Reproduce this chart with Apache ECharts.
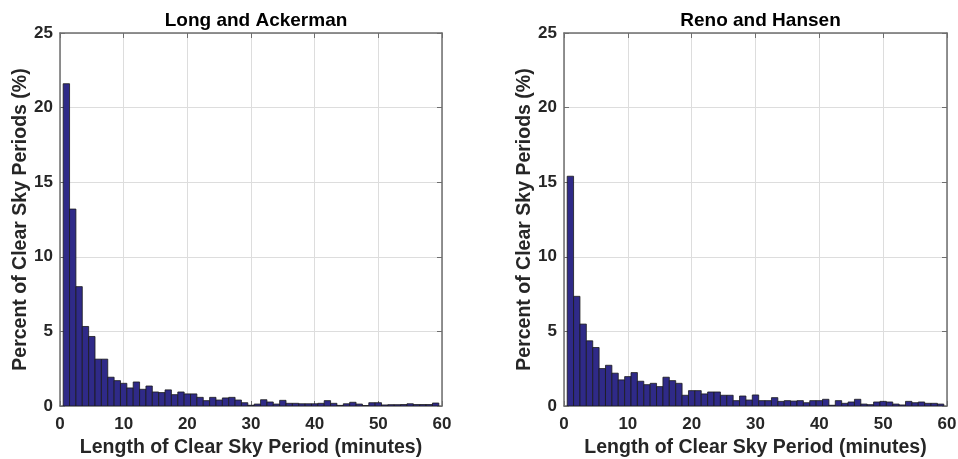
<!DOCTYPE html>
<html>
<head>
<meta charset="utf-8">
<script src="https://cdn.jsdelivr.net/npm/echarts@6/dist/echarts.min.js"></script>
<style>
  html, body { margin: 0; padding: 0; background: #fff; }
  #chart { width: 958px; height: 459px; }
</style>
</head>
<body>
<div id="chart"></div>
<script>
// bin centres (minutes), one bin per minute
var binCenters = [];
for (var i = 1; i <= 59; i++) binCenters.push(i);

var titles = ['Long and Ackerman', 'Reno and Hansen'];

// percent of clear sky periods in each bin
var longAckerman = [
  21.6, 13.2, 8.0, 5.33, 4.66, 3.14, 3.14, 1.93, 1.70, 1.52,
  1.21, 1.61, 1.12, 1.34, 0.94, 0.90, 1.08, 0.76, 0.94, 0.81,
  0.81, 0.58, 0.36, 0.58, 0.40, 0.54, 0.58, 0.40, 0.22, 0.05,
  0.13, 0.42, 0.27, 0.13, 0.38, 0.18, 0.18, 0.15, 0.15, 0.15,
  0.18, 0.36, 0.18, 0.04, 0.15, 0.25, 0.13, 0.03, 0.22, 0.22,
  0.07, 0.09, 0.09, 0.10, 0.15, 0.10, 0.10, 0.10, 0.20
];
var renoHansen = [
  15.4, 7.35, 5.49, 4.37, 3.92, 2.51, 2.73, 2.20, 1.75, 1.97,
  2.24, 1.66, 1.43, 1.52, 1.30, 1.93, 1.70, 1.52, 0.72, 1.03,
  1.03, 0.81, 0.94, 0.94, 0.72, 0.72, 0.36, 0.67, 0.40, 0.74,
  0.36, 0.36, 0.56, 0.31, 0.36, 0.33, 0.36, 0.22, 0.36, 0.36,
  0.45, 0.05, 0.36, 0.18, 0.27, 0.45, 0.13, 0.09, 0.27, 0.31,
  0.27, 0.13, 0.07, 0.31, 0.22, 0.27, 0.18, 0.18, 0.13
];

var xTicks = [0, 10, 20, 30, 40, 50, 60];
var yTicks = [0, 5, 10, 15, 20, 25];

var chart = echarts.init(document.getElementById('chart'));

var font = 'Liberation Sans, Arial, sans-serif';
var tickColor = '#262626';
var boxColor = '#6e6e6e';

function pairs(vals) {
  return vals.map(function (v, i) { return [binCenters[i], v]; });
}

function renderBar(params, api) {
  var x = api.value(0), y = api.value(1);
  var p0 = api.coord([x - 0.5, y]);
  var p1 = api.coord([x + 0.5, 0]);
  return {
    type: 'rect',
    shape: { x: p0[0], y: p0[1], width: p1[0] - p0[0], height: p1[1] - p0[1] },
    style: { fill: '#2f2a88', stroke: '#1a1a1a', lineWidth: 0.8 }
  };
}

var grids = [
  { left: 60, top: 33, width: 382, height: 373, outerBoundsMode: 'none', containLabel: false },
  { left: 564, top: 33, width: 383, height: 373, outerBoundsMode: 'none', containLabel: false }
];

var xAxes = [], yAxes = [], series = [], titleOpts = [];
[longAckerman, renoHansen].forEach(function (vals, g) {
  var gr = grids[g];
  titleOpts.push({
    text: titles[g],
    left: gr.left + gr.width / 2,
    top: 6,
    textAlign: 'center',
    textStyle: { fontFamily: font, fontSize: 19, fontWeight: 'bold', color: '#000' }
  });
  xAxes.push({
    gridIndex: g, type: 'value', min: xTicks[0], max: xTicks[xTicks.length - 1], interval: 10,
    name: 'Length of Clear Sky Period (minutes)', nameLocation: 'middle', nameGap: 32,
    nameTextStyle: { fontFamily: font, fontSize: 19.5, fontWeight: 'bold', color: '#262626' },
    axisLine: { show: true, onZero: false, lineStyle: { color: boxColor, width: 1.5 } },
    axisTick: { show: true, inside: true, length: 5, lineStyle: { color: boxColor } },
    axisLabel: { fontFamily: font, fontSize: 17, fontWeight: 'bold', color: tickColor, margin: 10 },
    splitLine: { show: true, lineStyle: { color: '#dddddd' } }
  });
  xAxes.push({
    gridIndex: g, type: 'value', position: 'top', min: 0, max: 60, interval: 10,
    axisLine: { show: true, onZero: false, lineStyle: { color: boxColor, width: 1.5 } },
    axisTick: { show: true, inside: true, length: 5, lineStyle: { color: boxColor } },
    axisLabel: { show: false }, splitLine: { show: false }
  });
  yAxes.push({
    gridIndex: g, type: 'value', min: yTicks[0], max: yTicks[yTicks.length - 1], interval: 5,
    name: 'Percent of Clear Sky Periods (%)', nameLocation: 'middle', nameGap: 28,
    nameTextStyle: { fontFamily: font, fontSize: 19.5, fontWeight: 'bold', color: '#262626' },
    axisLine: { show: true, onZero: false, lineStyle: { color: boxColor, width: 1.5 } },
    axisTick: { show: true, inside: true, length: 5, lineStyle: { color: boxColor } },
    axisLabel: { fontFamily: font, fontSize: 17, fontWeight: 'bold', color: tickColor, margin: 7 },
    splitLine: { show: true, lineStyle: { color: '#dddddd' } }
  });
  yAxes.push({
    gridIndex: g, type: 'value', position: 'right', min: 0, max: 25, interval: 5,
    axisLine: { show: true, onZero: false, lineStyle: { color: boxColor, width: 1.5 } },
    axisTick: { show: true, inside: true, length: 5, lineStyle: { color: boxColor } },
    axisLabel: { show: false }, splitLine: { show: false }
  });
  series.push({
    type: 'custom',
    xAxisIndex: g * 2, yAxisIndex: g * 2,
    renderItem: renderBar,
    data: pairs(vals),
    clip: true,
    z: 3
  });
});

chart.setOption({
  animation: false,
  backgroundColor: '#fff',
  title: titleOpts,
  grid: grids,
  xAxis: xAxes,
  yAxis: yAxes,
  series: series
});
</script>
</body>
</html>
